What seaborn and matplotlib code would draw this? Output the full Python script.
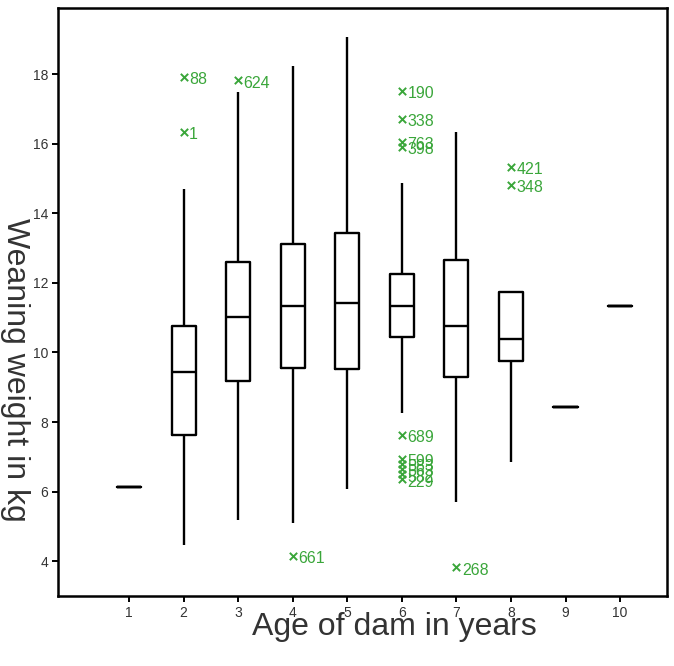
import numpy as np
import pandas as pd
import matplotlib
matplotlib.use("Agg")
import matplotlib.pyplot as plt
import seaborn as sns

# Box summaries (kg), one per age of dam
ages = [1, 2, 3, 4, 5, 6, 7, 8, 9, 10]
whisker_low = [6.13, 4.48, 5.17, 5.10, 6.07, 8.27, 5.69, 6.84, 8.43, 11.34]
q1 = [6.13, 7.63, 9.17, 9.56, 9.53, 10.43, 9.29, 9.75, 8.43, 11.34]
median = [6.13, 9.45, 11.03, 11.34, 11.43, 11.34, 10.77, 10.38, 8.43, 11.34]
q3 = [6.13, 10.76, 12.60, 13.13, 13.42, 12.25, 12.66, 11.73, 8.43, 11.34]
whisker_high = [6.13, 14.69, 17.49, 18.24, 19.08, 14.86, 16.34, 11.73, 8.43, 11.34]

# Outliers (case numbers as labels)
out_age = [2, 2, 3, 4, 6, 6, 6, 6, 6, 6, 6, 6, 6, 6, 7, 8, 8]
out_weight = [17.93, 16.34, 17.82, 4.15, 17.51, 16.72, 16.06, 15.90,
              7.64, 6.95, 6.80, 6.65, 6.50, 6.35, 3.82, 15.33, 14.82]
out_label = ["88", "1", "624", "661", "190", "338", "763", "398",
             "689", "599", "583", "563", "582", "229", "268", "421", "348"]

GREEN = "#3aa63a"
TEXT = "#333333"

# five points per group -> quartiles come out exactly at the read values
rows = []
for i, age in enumerate(ages):
    for v in (whisker_low[i], q1[i], median[i], q3[i], whisker_high[i]):
        rows.append({"age": age, "weight": v})
df = pd.DataFrame(rows)

sns.set_theme(style="ticks")
plt.rcParams["font.family"] = ["Liberation Sans", "DejaVu Sans"]

fig = plt.figure(figsize=(6.74, 6.66), dpi=100)
ax = fig.add_axes([58 / 674, 1 - 596 / 666, 609 / 674, 588 / 666])

sns.boxplot(data=df, x="age", y="weight", native_scale=True, width=0.44,
            whis=np.inf, fill=False, color="black", linewidth=1.7,
            showcaps=False, showfliers=False, ax=ax)

sns.scatterplot(x=out_age, y=out_weight, marker="x", color=GREEN, s=28,
                linewidth=1.4, ax=ax, zorder=3)
for x, y, lbl in zip(out_age, out_weight, out_label):
    ax.annotate(lbl, (x, y), xytext=(4, -2), textcoords="offset points",
                ha="left", va="center", color=GREEN, fontsize=11.5)

ax.set_xlim(-0.30, 10.86)
ax.set_ylim(3.0, 19.9)
ax.set_xticks(ages)
ax.set_xticklabels([str(a) for a in ages])
ax.set_yticks(range(4, 19, 2))
ax.tick_params(axis="both", length=4, width=1.4, color="black",
               labelsize=10, labelcolor=TEXT, pad=3)

for sp in ax.spines.values():
    sp.set_visible(True)
    sp.set_linewidth(1.8)
    sp.set_color("black")

ax.set_xlabel("Age of dam in years", fontsize=23, color=TEXT, va="center")
ax.xaxis.set_label_coords(0.553, -0.052)
ax.set_ylabel("Weaning weight in kg", fontsize=23, color=TEXT,
              rotation=270, va="center", ha="center")
ax.yaxis.set_label_coords(-0.07, 0.384)

fig.savefig("out.png", dpi=100, facecolor="white")
